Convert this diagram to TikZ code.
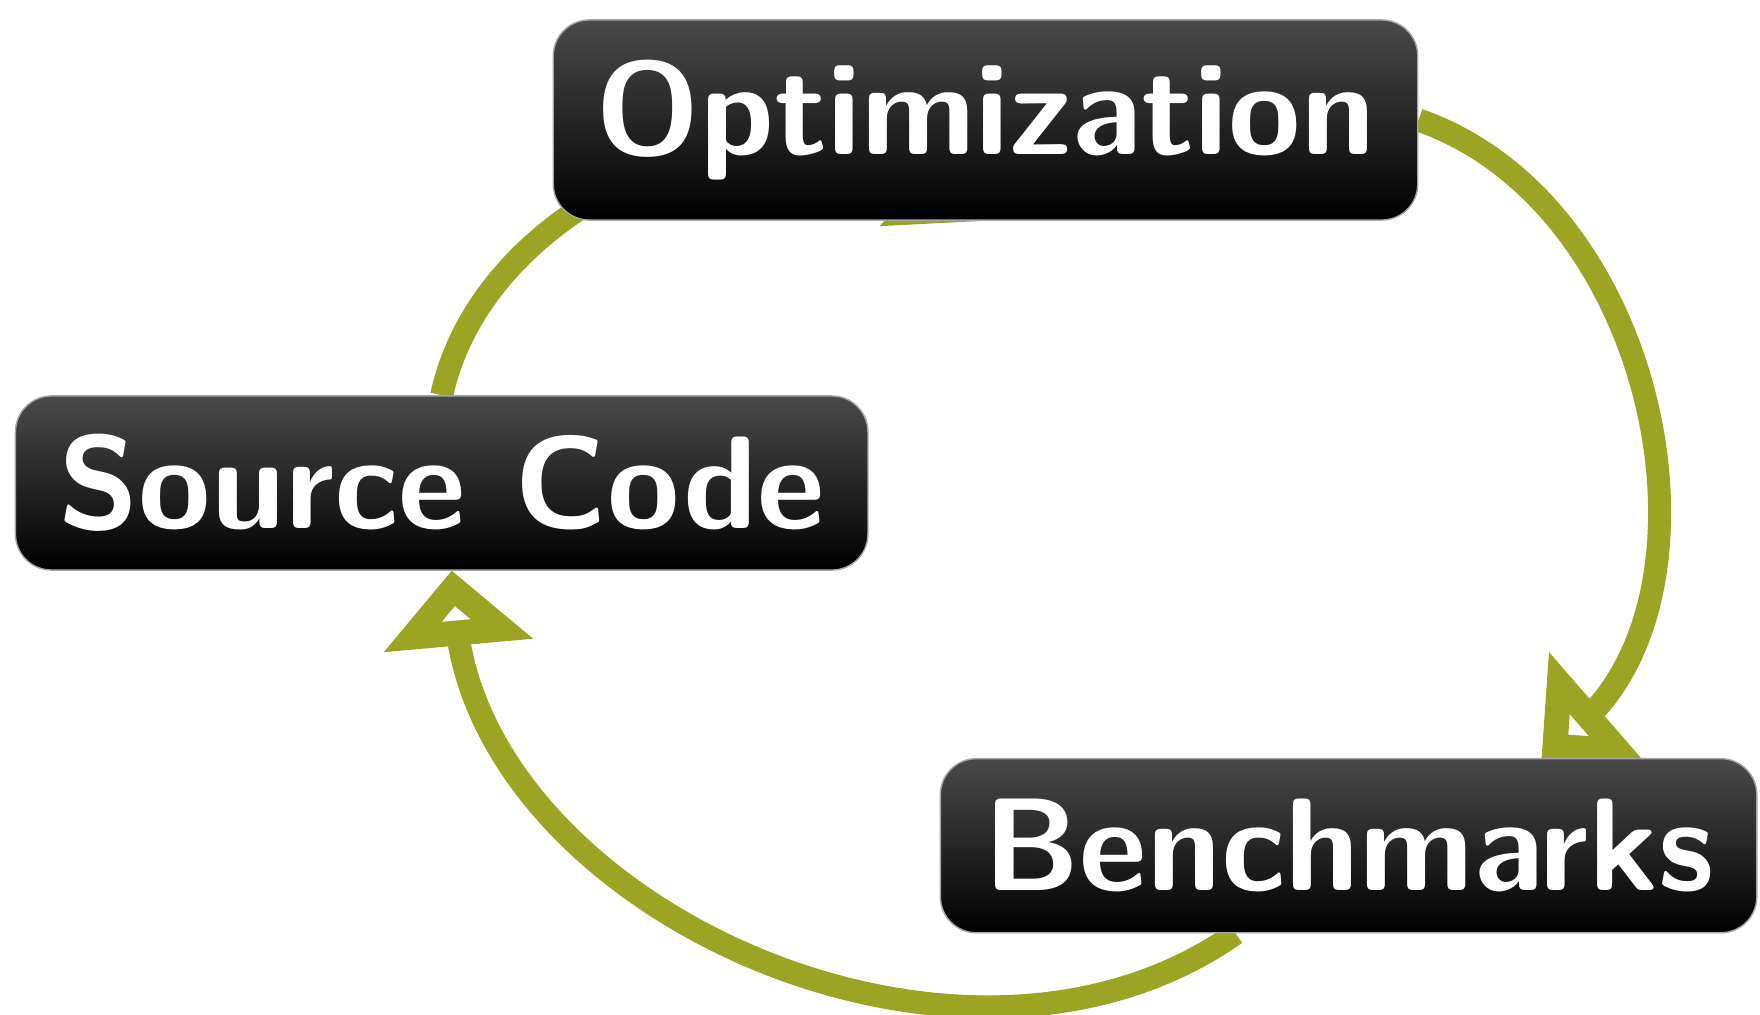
\documentclass[tikz,border=0pt]{standalone}
\usetikzlibrary{calc}
\definecolor{arrowgreen}{RGB}{155,165,35}
\definecolor{boxtop}{RGB}{74,74,74}
\pgfdeclarelayer{bg}
\pgfsetlayers{bg,main}
\begin{document}
\begin{tikzpicture}[x=0.01cm,y=0.01cm,
  box/.style={rounded corners=0.36cm, top color=boxtop, bottom color=black,
    draw=black!35, line width=0.4pt, text=white, inner sep=0pt,
    font=\sffamily\bfseries\fontsize{37.5}{40}\selectfont, minimum height=1.74cm},
  flow/.style={draw=arrowgreen, line width=0.23cm, shorten >=0.5cm},
  ahead/.pic={\draw[draw=arrowgreen, fill=white, line width=0.25cm, line join=miter]
    (-17.7,0) -- (-62.5,44.8) -- (-62.5,-44.8) -- cycle;}]
\useasboundingbox (0,0) rectangle (1760,1014);
\node[box, minimum width=8.64cm, minimum height=2.0cm] (opt) at (985.5,894) {Optimization};
\node[box, minimum width=8.52cm] (src) at (441.7,531) {Source Code};
\node[box, minimum width=8.16cm] (bench) at (1348.6,168.3) {Benchmarks};
\coordinate (e2) at ($(bench.north)+(193,0)$);
\coordinate (s3) at ($(bench.south)+(-113,0)$);
\coordinate (e3) at ($(src.south)+(10,0)$);
\begin{pgfonlayer}{bg}
\draw[flow] (src.north) to[bend left=60] (opt.south);
\pic[rotate=-42.07] at (opt.south) {ahead};
\draw[flow] (opt.east) to[bend left=60] (e2);
\pic[rotate=-139.0] at (e2) {ahead};
\draw[flow] (s3) to[bend left=60] (e3);
\pic[rotate=95.17] at (e3) {ahead};
\end{pgfonlayer}
\end{tikzpicture}
\end{document}
